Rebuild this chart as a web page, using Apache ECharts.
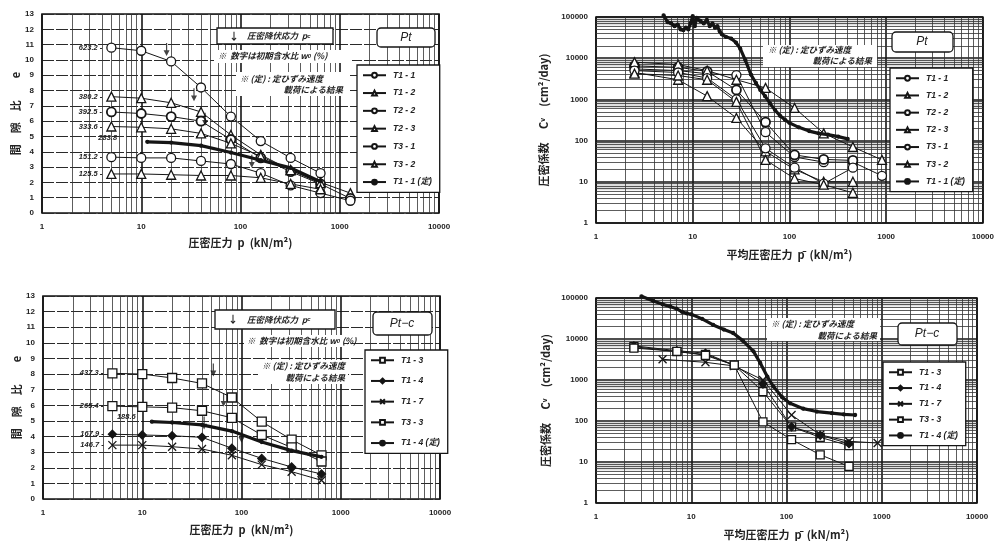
<!DOCTYPE html>
<html><head><meta charset="utf-8">
<script src="https://cdn.jsdelivr.net/npm/echarts@6/dist/echarts.min.js"></script>
<style>html,body{margin:0;padding:0;background:#fff}#c{width:997px;height:541px}</style>
</head><body><div id="c"></div>
<script>
// ---------------- DATA ----------------
// load steps p (kN/m2) and mean pressures p-bar
const pSteps = [5, 10, 20, 40, 80, 160, 320, 640, 1280];
const pBar = [2.5, 7.07, 14.1, 28.3, 56.6, 113, 226, 453, 905];

// Top-left: e - log p  (Pt)
const eT11 = [10.8, 10.6, 9.9, 8.2, 6.3, 4.7, 3.6, 2.6];
const eT12 = [7.6, 7.5, 7.2, 6.6, 5.1, 3.8, 2.8, 2.0, 1.3];
const eT22 = [6.6, 6.5, 6.3, 6.0, 4.8, 3.6, 2.7, 1.9, 0.95];
const eT23 = [5.65, 5.6, 5.5, 5.2, 4.55, 3.7, 2.8, 1.95];
const eT31 = [3.65, 3.6, 3.6, 3.4, 3.2, 2.6, 1.8, 1.3, 0.8];
const eT32 = [2.55, 2.55, 2.5, 2.45, 2.45, 2.3, 1.9, 1.55];
const pT11c = [11.5, 20, 40, 80, 160, 320, 640];
const eT11c = [4.65, 4.6, 4.4, 3.95, 3.45, 2.95, 2.05];
const w0Top = ['623.2', '380.2', '392.5', '333.6', '151.2', '125.5'];
const w0TopC = '283.8';
const pcTop = [[18, 10.25], [34, 7.3], [44, 5.7], [130, 2.95]];

// Top-right: Cv - log p-bar (Pt)
const cvT11 = [5500, 5000, 4200, 3900, 160, 40, 30, 30, 14];
const cvT12 = [4500, 3000, 1200, 355, 55, 20, 10, 10];
const cvT22 = [6500, 6000, 4800, 1700, 280, 45, 35, 33];
const cvT23 = [8000, 7000, 5000, 3000, 1900, 620, 150, 70, 34];
const cvT31 = [5000, 4500, 3300, 1000, 65, 22, 9, 22];
const cvT32 = [4200, 3800, 3000, 870, 34, 12, 8.5, 5.4];
const pCvT11c = [5, 5.5, 6, 6.5, 7, 7.5, 8, 8.5, 9, 9.5, 10, 10.5, 11, 12, 13, 14, 15, 16, 17, 18, 19, 20, 22, 25, 28, 31, 35, 40, 45, 50, 56, 63, 71, 80, 90, 100, 125, 160, 200, 250, 320, 400];
const cvT11c = [110000, 75000, 70000, 60000, 65000, 50000, 48000, 55000, 50000, 70000, 105000, 60000, 95000, 80000, 70000, 85000, 60000, 70000, 55000, 60000, 45000, 38000, 33000, 30000, 24000, 17000, 9000, 4000, 2500, 1700, 1200, 800, 550, 400, 320, 270, 210, 170, 150, 140, 125, 110];

// Bottom-left: e - log p (Pt-c)
const eBT13 = [8.05, 8.0, 7.75, 7.4, 6.5, 4.95, 3.8, 2.8];
const eBT14 = [4.15, 4.1, 4.05, 3.95, 3.25, 2.6, 2.05, 1.6];
const eBT17 = [3.45, 3.45, 3.35, 3.2, 2.8, 2.2, 1.75, 1.2];
const eBT33 = [5.95, 5.9, 5.85, 5.65, 5.2, 4.1, 3.3, 2.4];
const pBT14c = [12.5, 20, 40, 80, 160, 320, 640];
const eBT14c = [4.95, 4.9, 4.75, 4.35, 3.65, 3.1, 2.7];
const w0Bot = ['437.3', '167.9', '146.7', '265.4'];
const w0BotC = '188.6';
const pcBot = [[52, 7.85], [66, 5.9], [42, 4.45], [100, 3.6]];

// Bottom-right: Cv - log p-bar (Pt-c)
const cvBT13 = [6500, 4900, 4200, 2300, 520, 72, 40, 25];
const cvBT14 = [6800, 5200, 4500, 2300, 800, 72, 45, 28];
const pBT17 = [5, 14.1, 28.3, 56.6, 113, 226, 453, 905];
const cvBT17 = [3200, 2700, 2200, 1000, 140, 46, 32, 29];
const cvBT33 = [6000, 5000, 4000, 2300, 95, 35, 15, 7.8];
const pCvB14c = [3, 4, 5, 6, 7, 8, 9, 10, 13, 17, 22, 27.5, 35, 45, 53, 63, 73, 90, 109, 150, 208, 300, 400, 525];
const cvB14c = [110000, 85000, 70000, 62000, 55000, 46000, 42000, 40000, 31000, 22000, 17000, 14000, 9000, 5000, 2600, 1200, 690, 380, 270, 200, 170, 155, 145, 140];

// axis tick labels
const xTicks = [1, 10, 100, 1000, 10000];

// ---------------- CHART ----------------
const INK = '#151515';
const LATIN = 'Liberation Sans, Arial, sans-serif';
const JP = '"Noto Sans CJK JP", sans-serif';
const tickLab = {fontFamily: LATIN, fontWeight: 'bold', fontSize: 8, color: '#222'};
const nameStyle = {fontFamily: JP, fontSize: 11, fontWeight: 'bold', color: '#222',
  rich: {s: {fontFamily: LATIN, fontSize: 7, fontWeight: 'bold', color: '#222'}}};

function minorVals(maxDec) {
  const out = [];
  for (let d = 1; d < maxDec; d *= 10) for (let k = 2; k <= 9; k++) out.push(d * k);
  return out;
}

const grids = [
  {left: 42, top: 14, width: 397, height: 199},
  {left: 596, top: 17, width: 391, height: 206},
  {left: 43, top: 296, width: 397, height: 203},
  {left: 596, top: 298, width: 381, height: 205}
].map(g => Object.assign({show: true, borderColor: INK, borderWidth: 1.6, backgroundColor: '#fff'}, g));

function xAx(i, name, gap) {
  return {type: 'log', logBase: 10, min: xTicks[0], max: xTicks[xTicks.length - 1], gridIndex: i,
    name, nameLocation: 'middle', nameGap: gap, nameTextStyle: nameStyle,
    axisLine: {show: false}, axisTick: {show: false},
    axisLabel: Object.assign({margin: 10, formatter: v => String(Math.round(v))}, tickLab),
    splitLine: {show: true, lineStyle: {color: INK, width: 1.6}}};
}
function yE(i, name, gap) {
  return {type: 'value', min: 0, max: 13, interval: 1, gridIndex: i,
    name, nameLocation: 'middle', nameGap: gap, nameRotate: 90, nameTextStyle: nameStyle,
    axisLine: {show: false}, axisTick: {show: false},
    axisLabel: Object.assign({margin: 8}, tickLab),
    splitLine: {show: true, lineStyle: {color: '#2a2a2a', width: 1, type: [12, 2]}}};
}
function yCv(i, name, gap) {
  return {type: 'log', logBase: 10, min: 1, max: 100000, gridIndex: i,
    name, nameLocation: 'middle', nameGap: gap, nameRotate: 90, nameTextStyle: nameStyle,
    axisLine: {show: false}, axisTick: {show: false},
    axisLabel: Object.assign({margin: 8, formatter: v => String(Math.round(v))}, tickLab),
    splitLine: {show: true, lineStyle: {color: INK, width: 1.6}}};
}

function deco(i, logY) {
  const ml = minorVals(10000).map(v => ({xAxis: v}));
  if (logY) minorVals(100000).forEach(v => ml.push({yAxis: v}));
  const s = {type: 'line', name: 'deco' + i, xAxisIndex: i, yAxisIndex: i, data: [], silent: true, z: 1,
    markLine: {silent: true, symbol: ['none', 'none'], label: {show: false}, animation: false,
      lineStyle: {color: '#333', width: 0.8, type: 'solid'}, emphasis: {disabled: true}, data: ml}};
  if (logY) {
    const bands = [];
    for (let d = 10; d <= 100000; d *= 10) bands.push([{yAxis: d * 0.62}, {yAxis: d * 0.95}]);
    s.markArea = {silent: true, animation: false, itemStyle: {color: 'rgba(0,0,0,0.13)'}, data: bands};
  }
  return s;
}

const symX = 'path://M0,0L10,10M10,0L0,10';
const symArrow = 'path://M4,0L6,0L6,11L10,11L5,20L0,11L4,11Z';

function ser(name, i, xs, ys, symbol, opt) {
  opt = opt || {};
  const data = ys.map((y, k) => [xs[k], y]);
  if (opt.w0) {
    data[0] = {value: data[0], label: {show: true, position: 'left', distance: opt.dist || 4,
      offset: opt.off || [0, 0], formatter: opt.w0 + (opt.dash === false ? '' : ' -'),
      fontFamily: LATIN, fontStyle: 'italic', fontWeight: 'bold', fontSize: 7.5, color: '#222'}};
  }
  const filled = opt.filled;
  return {type: 'line', name, xAxisIndex: i, yAxisIndex: i, data, symbol,
    symbolSize: opt.size || 9, showAllSymbol: true, z: opt.z || 5, animation: false,
    clip: opt.clip !== false,
    lineStyle: {color: INK, width: opt.lw || 1},
    itemStyle: {color: filled ? INK : '#fff', borderColor: INK, borderWidth: opt.bw || 1.3},
    emphasis: {disabled: true}};
}
function arrows(i, pts) {
  return {type: 'scatter', name: 'pc' + i, xAxisIndex: i, yAxisIndex: i, data: pts,
    symbol: symArrow, symbolSize: [6, 13], symbolOffset: [0, '-50%'], z: 8,
    itemStyle: {color: INK}, silent: true, animation: false};
}

const thick = {lw: 3.2, size: 3, filled: true, bw: 0, z: 6};

const series = [
  deco(0, false), deco(1, true), deco(2, false), deco(3, true),
  // TL
  ser('T1-1', 0, pSteps, eT11, 'circle', {w0: w0Top[0]}),
  ser('T1-2', 0, pSteps, eT12, 'triangle', {w0: w0Top[1]}),
  ser('T2-2', 0, pSteps, eT22, 'circle', {w0: w0Top[2], bw: 1.8}),
  ser('T2-3', 0, pSteps, eT23, 'triangle', {w0: w0Top[3]}),
  ser('T3-1', 0, pSteps, eT31, 'circle', {w0: w0Top[4]}),
  ser('T3-2', 0, pSteps, eT32, 'triangle', {w0: w0Top[5]}),
  ser('T1-1 (定)', 0, pT11c, eT11c, 'circle', Object.assign({w0: w0TopC, dist: 28, off: [0, -4], dash: false}, thick)),
  arrows(0, pcTop),
  // TR
  ser('T1-1', 1, pBar, cvT11, 'circle'),
  ser('T1-2', 1, pBar, cvT12, 'triangle'),
  ser('T2-2', 1, pBar, cvT22, 'circle', {bw: 1.8}),
  ser('T2-3', 1, pBar, cvT23, 'triangle'),
  ser('T3-1', 1, pBar, cvT31, 'circle'),
  ser('T3-2', 1, pBar, cvT32, 'triangle'),
  ser('T1-1 (定)', 1, pCvT11c, cvT11c, 'circle', Object.assign({clip: false}, thick)),
  // BL
  ser('T1-3', 2, pSteps, eBT13, 'rect', {w0: w0Bot[0]}),
  ser('T1-4', 2, pSteps, eBT14, 'diamond', {w0: w0Bot[1], filled: true, size: 8}),
  ser('T1-7', 2, pSteps, eBT17, symX, {w0: w0Bot[2], size: 8}),
  ser('T3-3', 2, pSteps, eBT33, 'rect', {w0: w0Bot[3]}),
  ser('T1-4 (定)', 2, pBT14c, eBT14c, 'circle', Object.assign({w0: w0BotC, dist: 14, off: [0, -5], dash: false}, thick)),
  arrows(2, pcBot),
  // BR
  ser('T1-3', 3, pBar, cvBT13, 'rect', {size: 8}),
  ser('T1-4', 3, pBar, cvBT14, 'diamond', {filled: true, size: 8}),
  ser('T1-7', 3, pBT17, cvBT17, symX, {size: 8}),
  ser('T3-3', 3, pBar, cvBT33, 'rect', {size: 8}),
  ser('T1-4 (定)', 3, pCvB14c, cvB14c, 'circle', Object.assign({clip: false}, thick))
];

function leg(names, left, top, gap) {
  return {data: names, left, top, orient: 'vertical', itemGap: gap, itemWidth: 23, itemHeight: 6,
    borderColor: INK, borderWidth: 1.3, padding: [6, 8, 6, 5], backgroundColor: '#fff',
    selectedMode: false, z: 20,
    formatter: n => n.replace('-', ' - '),
    textStyle: {fontFamily: LATIN + ', ' + JP, fontStyle: 'italic', fontWeight: 'bold', fontSize: 8.5, color: '#222', padding: [0, 0, 0, 2]}};
}
const topNames = ['T1-1', 'T1-2', 'T2-2', 'T2-3', 'T3-1', 'T3-2', 'T1-1 (定)'];
const botNames = ['T1-3', 'T1-4', 'T1-7', 'T3-3', 'T1-4 (定)'];

function box(x, y, w, h, r) {
  return {type: 'rect', shape: {x, y, width: w, height: h, r: r || 0}, z: 100,
    style: {fill: '#fff', stroke: INK, lineWidth: 1.3}};
}
function wbg(x, y, w, h) {
  return {type: 'rect', shape: {x, y, width: w, height: h}, z: 99, style: {fill: '#fff'}};
}
function txt(x, y, text, opt) {
  return {type: 'text', x, y, z: 101, style: Object.assign({text, fill: '#222',
    fontFamily: JP, fontSize: 8.5, fontWeight: 'bold', fontStyle: 'italic', verticalAlign: 'middle',
    rich: {s: {fontSize: 6, fontFamily: LATIN, fontWeight: 'bold', fontStyle: 'italic', fill: '#222'}}}, opt || {})};
}
const ptFont = {fontFamily: LATIN, fontSize: 12, fontStyle: 'italic', fontWeight: 'normal', align: 'center'};

const graphic = [
  // TL
  box(217, 28, 116, 16), txt(229, 36, '↓', {fontStyle: 'normal', fontSize: 10}),
  txt(247, 36, '圧密降伏応力  p{s|c}'),
  box(377, 28, 58, 19, 4), txt(406, 38, 'Pt', ptFont),
  wbg(214, 50, 138, 13), txt(218, 56, '※  数字は初期含水比 w{s|0} (%)'),
  wbg(236, 72, 114, 24), txt(240, 79, '※ (定) : 定ひずみ速度'), txt(343, 90, '載荷による結果', {align: 'right'}),
  // TR
  wbg(763, 45, 114, 22), txt(768, 50, '※ (定) : 定ひずみ速度'), txt(872, 61, '載荷による結果', {align: 'right'}),
  box(892, 32, 61, 20, 4), txt(922, 42, 'Pt', ptFont),
  // BL
  box(215, 310, 120, 19), txt(228, 319.5, '↓', {fontStyle: 'normal', fontSize: 10}),
  txt(247, 319.5, '圧密降伏応力  p{s|c}'),
  box(373, 312, 59, 23, 4), txt(402, 324, 'Pt−c', ptFont),
  wbg(244, 335, 100, 12), txt(247, 341, '※  数字は初期含水比 w{s|0} (%)'),
  wbg(258, 360, 90, 24), txt(262, 366, '※ (定) : 定ひずみ速度'), txt(345, 378, '載荷による結果', {align: 'right'}),
  // BR
  wbg(767, 318, 113, 23), txt(771, 324, '※ (定) : 定ひずみ速度'), txt(877, 336, '載荷による結果', {align: 'right'}),
  box(898, 323, 59, 22, 4), txt(927, 334, 'Pt−c', ptFont)
];

const option = {
  backgroundColor: '#fff',
  animation: false,
  grid: grids,
  xAxis: [
    xAx(0, '圧密圧力  p  (kN/m²)', 24),
    xAx(1, '平均圧密圧力  p̄  (kN/m²)', 26),
    xAx(2, '圧密圧力  p  (kN/m²)', 25),
    xAx(3, '平均圧密圧力  p̄  (kN/m²)', 26)
  ],
  yAxis: [
    yE(0, '間　隙　比　　e', 19),
    yCv(1, '圧密係数　 C{s|v}　(cm²/day)', 47),
    yE(2, '間　隙　比　　e', 20),
    yCv(3, '圧密係数　 C{s|v}　(cm²/day)', 45)
  ],
  legend: [
    leg(topNames, 357, 65, 9.3),
    leg(topNames, 890, 68, 8.7),
    leg(botNames, 365, 350, 12.2),
    leg(botNames, 883, 362, 7.3)
  ],
  series,
  graphic
};

const chart = echarts.init(document.getElementById('c'), null, {renderer: 'canvas'});
chart.setOption(option);
</script>
</body></html>
